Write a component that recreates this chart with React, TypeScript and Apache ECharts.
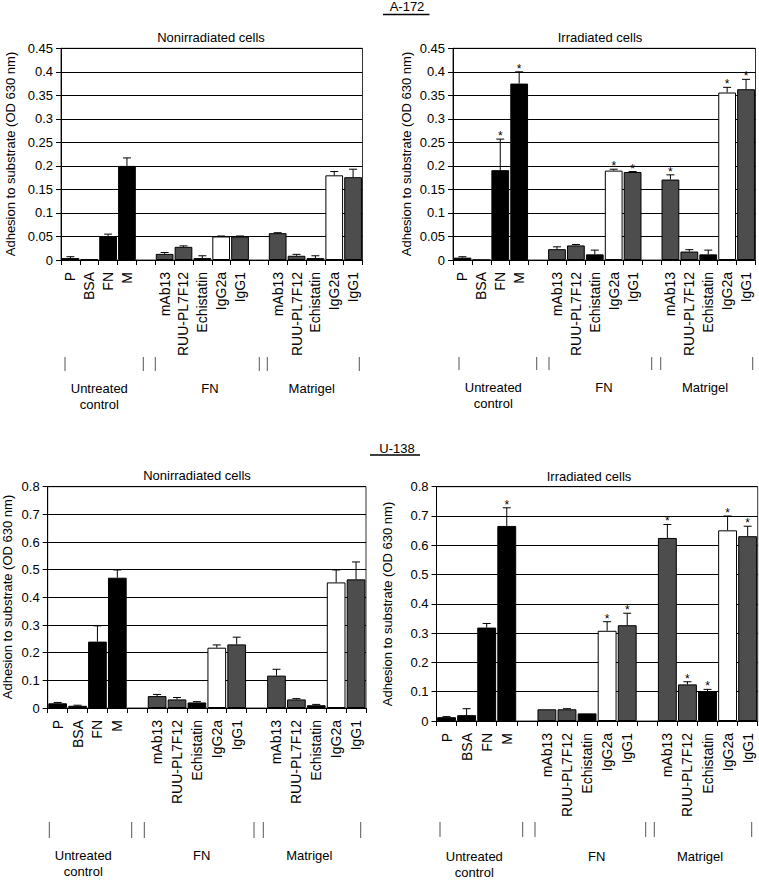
import React, { useEffect, useRef } from "react";
import * as echarts from "echarts";

// ---------- DATA ----------
const categoryIds = [
  "UC-P", "UC-BSA", "UC-FN", "UC-M", "gap1",
  "FN-mAb13", "FN-RUU", "FN-Echi", "FN-IgG2a", "FN-IgG1", "gap2",
  "MG-mAb13", "MG-RUU", "MG-Echi", "MG-IgG2a", "MG-IgG1",
];
const tickLabels = [
  "P", "BSA", "FN", "M", "",
  "mAb13", "RUU-PL7F12", "Echistatin", "IgG2a", "IgG1", "",
  "mAb13", "RUU-PL7F12", "Echistatin", "IgG2a", "IgG1",
];
// k = black, g = dark grey, w = white
const barKinds = ["k", "k", "k", "k", "", "g", "g", "k", "w", "g", "", "g", "g", "k", "w", "g"];
const groupLabels = ["Untreated\ncontrol", "FN", "Matrigel"];
const cellLineTitles = ["A-172", "U-138"];
const panelTitles = ["Nonirradiated cells", "Irradiated cells", "Nonirradiated cells", "Irradiated cells"];
const yAxisName = "Adhesion to substrate (OD 630 nm)";

// A-172 nonirradiated
const a172NonValues = [0.004, 0.001, 0.051, 0.2, null, 0.013, 0.028, 0.004, 0.05, 0.05, null, 0.057, 0.009, 0.004, 0.18, 0.176];
const a172NonErrors = [0.003, 0, 0.004, 0.017, null, 0.003, 0.002, 0.005, 0.001, 0.001, null, 0.001, 0.003, 0.005, 0.008, 0.017];
const a172NonStars = [0, 0, 0, 0, 0, 0, 0, 0, 0, 0, 0, 0, 0, 0, 0, 0];
// A-172 irradiated
const a172IrrValues = [0.005, 0, 0.191, 0.375, null, 0.023, 0.031, 0.012, 0.19, 0.187, null, 0.171, 0.018, 0.012, 0.356, 0.363];
const a172IrrErrors = [0.002, 0, 0.066, 0.025, null, 0.005, 0.002, 0.009, 0.003, 0.001, null, 0.01, 0.004, 0.009, 0.011, 0.021];
const a172IrrStars = [0, 0, 1, 1, 0, 0, 0, 0, 1, 1, 0, 1, 0, 0, 1, 1];
// U-138 nonirradiated
const u138NonValues = [0.017, 0.008, 0.24, 0.471, null, 0.043, 0.031, 0.02, 0.218, 0.23, null, 0.117, 0.031, 0.01, 0.454, 0.465];
const u138NonErrors = [0.003, 0.002, 0.057, 0.028, null, 0.006, 0.007, 0.003, 0.01, 0.026, null, 0.023, 0.003, 0.003, 0.045, 0.063];
const u138NonStars = [0, 0, 0, 0, 0, 0, 0, 0, 0, 0, 0, 0, 0, 0, 0, 0];
// U-138 irradiated
const u138IrrValues = [0.013, 0.02, 0.319, 0.666, null, 0.04, 0.04, 0.026, 0.308, 0.327, null, 0.625, 0.125, 0.102, 0.651, 0.631];
const u138IrrErrors = [0.002, 0.022, 0.014, 0.062, null, 0, 0.002, 0, 0.031, 0.041, null, 0.046, 0.009, 0.006, 0.049, 0.034];
const u138IrrStars = [0, 0, 0, 1, 0, 0, 0, 0, 1, 1, 0, 1, 1, 1, 1, 1];

// ---------- LAYOUT ----------
const W = 759;
const H = 881;
const FONT = "'Liberation Sans', Arial, Helvetica, sans-serif";
const kindColor: Record<string, string> = { k: "#000000", g: "#4d4d4d", w: "#ffffff" };

const panels = [
  {
    left: 61, right: 362.5, top: 48.3, bottom: 260, max: 0.45, interval: 0.05,
    values: a172NonValues, errors: a172NonErrors, stars: a172NonStars,
    title: { x: 211, y: 37 }, yName: { x: 10, y: 154 },
    seps: [65, 143.3, 155.3, 259.3, 267.3, 359.3], sepY: [357, 371],
    groups: [{ x: 99.3, y: 380 }, { x: 210, y: 380 }, { x: 311.7, y: 380 }],
  },
  {
    left: 453, right: 755.5, top: 48.3, bottom: 260, max: 0.45, interval: 0.05,
    values: a172IrrValues, errors: a172IrrErrors, stars: a172IrrStars,
    title: { x: 600, y: 37 }, yName: { x: 406, y: 154 },
    seps: [459, 536.7, 549, 651.7, 660.7, 752.7], sepY: [357, 370],
    groups: [{ x: 493.3, y: 379 }, { x: 604, y: 379 }, { x: 705, y: 379 }],
  },
  {
    left: 47.7, right: 366, top: 486.7, bottom: 708, max: 0.8, interval: 0.1,
    values: u138NonValues, errors: u138NonErrors, stars: u138NonStars,
    title: { x: 197, y: 475 }, yName: { x: 7.5, y: 597 },
    seps: [49.3, 131.7, 144.3, 254, 263.3, 360.7], sepY: [822, 838],
    groups: [{ x: 83.3, y: 847 }, { x: 201.7, y: 847 }, { x: 309.3, y: 847 }],
  },
  {
    left: 436.5, right: 757.7, top: 486.7, bottom: 721, max: 0.8, interval: 0.1,
    values: u138IrrValues, errors: u138IrrErrors, stars: u138IrrStars,
    title: { x: 589, y: 476 }, yName: { x: 387.5, y: 604 },
    seps: [440, 522.7, 535, 645.7, 654.3, 751.7], sepY: [822, 837],
    groups: [{ x: 474.3, y: 848 }, { x: 596.7, y: 848 }, { x: 700, y: 848 }],
  },
];
const mainTitles = [
  { x: 407, y: 6.5, ux1: 383, ux2: 429.5, uy: 14.5 },
  { x: 397, y: 448, ux1: 370, ux2: 420, uy: 455 },
];

function buildOption() {
  const grid: any[] = [];
  const xAxis: any[] = [];
  const yAxis: any[] = [];
  const series: any[] = [];
  const graphic: any[] = [];

  panels.forEach((p, pi) => {
    grid.push({
      left: p.left, width: p.right - p.left, top: p.top, height: p.bottom - p.top,
      show: true, borderColor: "#333", borderWidth: 1, backgroundColor: "transparent",
      containLabel: false,
    });
    xAxis.push({
      type: "category", gridIndex: pi, data: categoryIds, boundaryGap: true,
      axisLine: { lineStyle: { color: "#000", width: 1 } },
      axisTick: { show: true, length: 5, inside: false, lineStyle: { color: "#000" }, interval: 0 },
      axisLabel: {
        interval: 0, rotate: 90, margin: 12, color: "#000", fontSize: 14, fontFamily: FONT,
        formatter: (_v: string, idx: number) => tickLabels[idx],
      },
      splitLine: { show: false },
    });
    yAxis.push({
      type: "value", gridIndex: pi, min: 0, max: p.max, interval: p.interval,
      axisLine: { show: true, lineStyle: { color: "#000", width: 1 } },
      axisTick: { show: true, length: 5, lineStyle: { color: "#000" } },
      axisLabel: { color: "#000", fontSize: 13, fontFamily: FONT, margin: 8 },
      splitLine: { show: true, lineStyle: { color: "#000", width: 1 } },
    });
    series.push({
      type: "bar", xAxisIndex: pi, yAxisIndex: pi, barCategoryGap: "6%",
      data: p.values.map((v, i) =>
        v == null ? "-" : { value: v, itemStyle: { color: kindColor[barKinds[i]] } }
      ),
      itemStyle: { borderColor: "#000", borderWidth: 1 },
      z: 2,
    });
    const errData: any[] = [];
    p.values.forEach((v, i) => {
      if (v == null) return;
      errData.push([i, v, v + (p.errors[i] || 0), p.stars[i]]);
    });
    series.push({
      type: "custom", xAxisIndex: pi, yAxisIndex: pi, z: 3,
      encode: { x: 0, y: [1, 2] },
      data: errData,
      renderItem: (_params: any, api: any) => {
        const i = api.value(0);
        const v = api.value(1);
        const t = api.value(2);
        const s = api.value(3);
        const p0 = api.coord([i, v]);
        const p1 = api.coord([i, t]);
        const children: any[] = [];
        if (t > v) {
          children.push({
            type: "line",
            shape: { x1: p0[0], y1: p0[1], x2: p1[0], y2: p1[1] },
            style: { stroke: "#000", lineWidth: 1 },
          });
          children.push({
            type: "line",
            shape: { x1: p1[0] - 4, y1: p1[1], x2: p1[0] + 4, y2: p1[1] },
            style: { stroke: "#000", lineWidth: 1 },
          });
        }
        if (s) {
          children.push({
            type: "text", x: p1[0], y: p1[1] + 3,
            style: { text: "*", fontSize: 12, fontFamily: FONT, fill: "#000", align: "center", verticalAlign: "bottom" },
          });
        }
        return { type: "group", children };
      },
    });

    graphic.push({
      type: "text", x: p.title.x, y: p.title.y,
      style: { text: panelTitles[pi], fontSize: 13, fontFamily: FONT, fill: "#000", align: "center", verticalAlign: "middle" },
    });
    graphic.push({
      type: "text", x: p.yName.x, y: p.yName.y, rotation: Math.PI / 2,
      style: { text: yAxisName, fontSize: 13, fontFamily: FONT, fill: "#000", align: "center", verticalAlign: "middle" },
    });
    p.seps.forEach((sx) => {
      graphic.push({
        type: "line", shape: { x1: sx, y1: p.sepY[0], x2: sx, y2: p.sepY[1] },
        style: { stroke: "#555", lineWidth: 1 },
      });
    });
    p.groups.forEach((g, gi) => {
      graphic.push({
        type: "text", x: g.x, y: g.y,
        style: { text: groupLabels[gi], fontSize: 13, fontFamily: FONT, fill: "#000", align: "center", verticalAlign: "top", lineHeight: 16 },
      });
    });
  });

  mainTitles.forEach((m, mi) => {
    graphic.push({
      type: "text", x: m.x, y: m.y,
      style: { text: cellLineTitles[mi], fontSize: 13, fontFamily: FONT, fill: "#000", align: "center", verticalAlign: "middle" },
    });
    graphic.push({
      type: "line", shape: { x1: m.ux1, y1: m.uy, x2: m.ux2, y2: m.uy },
      style: { stroke: "#000", lineWidth: 1.5 },
    });
  });

  return {
    animation: false,
    backgroundColor: "#ffffff",
    textStyle: { fontFamily: FONT },
    grid, xAxis, yAxis, series, graphic,
  };
}

export default function App() {
  const ref = useRef<HTMLDivElement>(null);
  useEffect(() => {
    document.body.style.margin = "0";
    if (!ref.current) return;
    const chart = echarts.init(ref.current, undefined, { renderer: "svg" });
    chart.setOption(buildOption() as any);
    return () => chart.dispose();
  }, []);
  return <div ref={ref} style={{ width: W, height: H, position: "absolute", left: 0, top: 0 }} />;
}
